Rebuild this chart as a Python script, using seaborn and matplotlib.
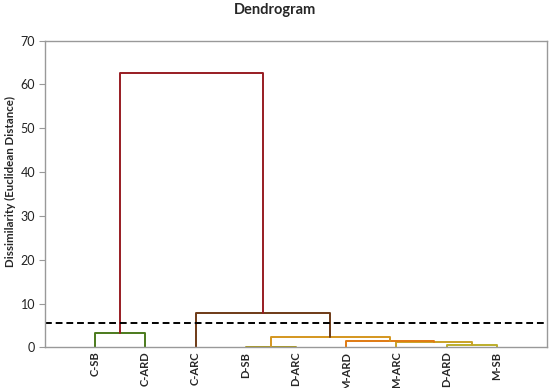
import matplotlib
matplotlib.use("Agg")
import matplotlib.pyplot as plt
import seaborn as sns
import pandas as pd

# ---- data ----
leaves = ['C-SB', 'C-ARD', 'C-ARC', 'D-SB', 'D-ARC', 'M-ARD', 'M-ARC', 'D-ARD', 'M-SB']
# merges: left child, right child (leaf indices 0..8, new nodes 9..)
merge_left = [0, 3, 7, 6, 5, 10, 2, 9]
merge_right = [1, 4, 8, 11, 12, 13, 14, 15]
merge_height = [3.2, 0.2, 0.6, 1.3, 1.55, 2.3, 7.9, 62.7]
merge_color = ['#4b7a1c', '#a8981a', '#bcae2c', '#c9a226', '#e07a12', '#d4961e', '#6e3a16', '#981c22']
cut_height = 5.5
yticks = [0, 10, 20, 30, 40, 50, 60, 70]

sns.set_style("white")
plt.rcParams['font.family'] = ['Lato', 'DejaVu Sans']

fig = plt.figure(figsize=(5.5, 3.88), dpi=100)
ax = fig.add_axes([0.0818, 0.1044, 0.9127, 0.7912])

xpos = {i: float(i + 1) for i in range(len(leaves))}
hpos = {i: 0.0 for i in range(len(leaves))}
rows = []
for k, (l, r, h, c) in enumerate(zip(merge_left, merge_right, merge_height, merge_color)):
    node = len(leaves) + k
    xs = [xpos[l], xpos[l], xpos[r], xpos[r]]
    ys = [hpos[l], h, h, hpos[r]]
    for j, (x, y) in enumerate(zip(xs, ys)):
        rows.append({'link': k, 'order': j, 'x': x, 'y': y})
    xpos[node] = (xpos[l] + xpos[r]) / 2
    hpos[node] = h

df = pd.DataFrame(rows)
sns.lineplot(data=df, x='x', y='y', hue='link', units='link', estimator=None,
             sort=False, palette=merge_color, legend=False, linewidth=1.4, ax=ax)

ax.axhline(cut_height, color='black', linestyle=(0, (3.5, 2)), linewidth=1.4)

ax.set_xlim(0, 10)
ax.set_ylim(0, 70)
ax.set_yticks(yticks)
ax.set_yticklabels([str(v) for v in yticks], fontsize=9, color='#222222')
ax.set_xticks(range(1, len(leaves) + 1))
ax.set_xticklabels(leaves, rotation=90, fontsize=8, fontweight='bold')
ax.tick_params(axis='y', length=4, width=0.8, color='#999999', direction='out', pad=3, left=True)
ax.tick_params(axis='x', length=0, pad=3)
for s in ax.spines.values():
    s.set_color('#999999')
    s.set_linewidth(1.0)

ax.set_xlabel('')
ax.set_ylabel('Dissimilarity (Euclidean Distance)', fontsize=8.3, fontweight='bold')
ax.yaxis.set_label_coords(-0.058, 0.54)
fig.text(0.5, 0.973, 'Dendrogram', ha='center', va='center', fontsize=10.5, fontweight='bold')

fig.savefig('out.png', dpi=100)
